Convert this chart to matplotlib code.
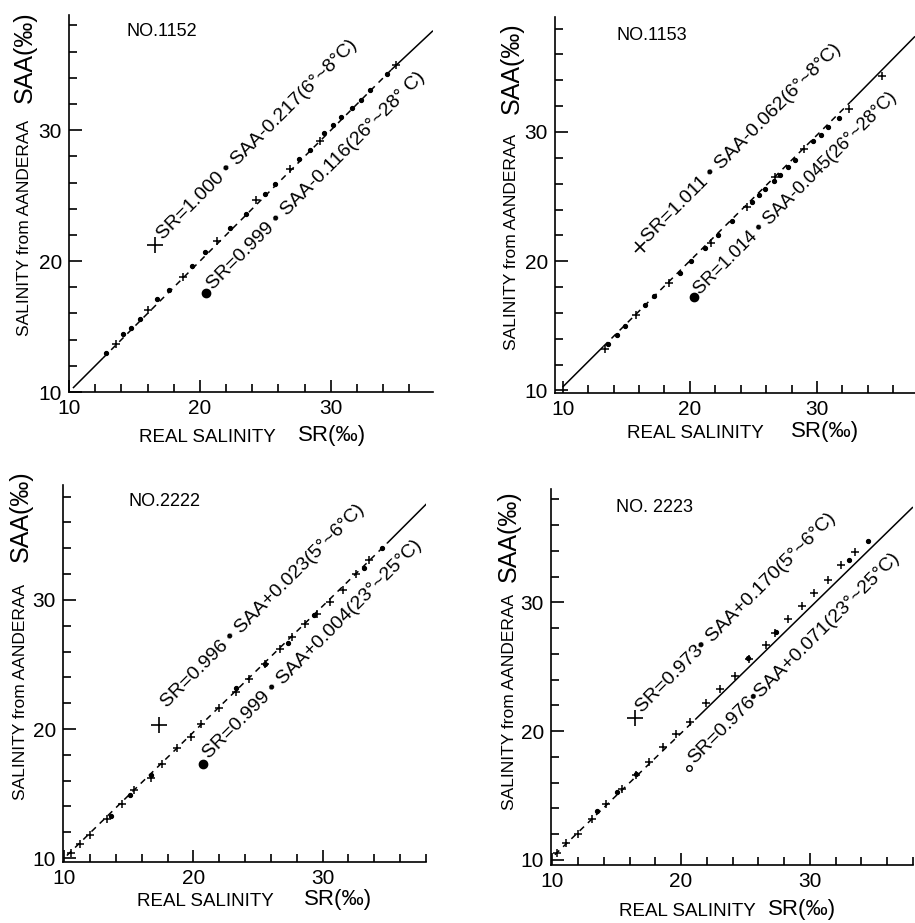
import matplotlib
matplotlib.use("Agg")
import matplotlib.pyplot as plt
from matplotlib.ticker import FixedLocator

plt.rcParams['font.family'] = ['Liberation Sans', 'DejaVu Sans']

W, H = 915, 923

# ---------------- data ----------------
titles = ["NO.1152", "NO.1153", "NO.2222", "NO. 2223"]

p1_cold_x = [13.6, 16.0, 18.7, 21.3, 24.3, 26.9, 29.2, 35.0]
p1_cold_y = [13.7, 16.3, 18.8, 21.5, 24.7, 27.0, 29.2, 35.0]
p1_warm_x = [12.8, 14.1, 14.7, 15.4, 16.7, 17.6, 19.4, 20.4, 22.3, 23.5, 25.0, 25.7,
             27.6, 28.4, 29.5, 30.2, 30.8, 31.6, 32.3, 33.0, 34.3]
p1_warm_y = [13.0, 14.4, 14.9, 15.6, 17.1, 17.8, 19.6, 20.7, 22.5, 23.6, 25.1, 25.9,
             27.8, 28.5, 29.8, 30.4, 31.0, 31.7, 32.3, 33.1, 34.3]

p2_cold_x = [13.3, 15.8, 18.4, 21.7, 24.5, 26.7, 29.0, 32.5, 35.1]
p2_cold_y = [13.2, 15.8, 18.3, 21.4, 24.2, 26.5, 28.7, 31.8, 34.3]
p2_warm_x = [13.6, 14.3, 14.9, 16.5, 17.2, 19.2, 20.1, 21.2, 22.2, 23.3, 24.9, 25.4,
             25.9, 26.6, 27.1, 27.7, 28.3, 29.7, 30.3, 30.9, 31.7]
p2_warm_y = [13.6, 14.3, 15.0, 16.6, 17.3, 19.1, 20.0, 21.0, 22.0, 23.1, 24.6, 25.1,
             25.6, 26.2, 26.7, 27.3, 27.8, 29.3, 29.8, 30.4, 31.1]

p3_cold_x = [10.5, 11.2, 12.0, 13.3, 14.5, 15.4, 16.7, 17.6, 18.7, 19.8, 20.6, 22.0,
             23.3, 24.3, 25.5, 26.7, 27.6, 28.6, 29.6, 30.6, 31.6, 32.6, 33.6]
p3_cold_y = [10.4, 11.1, 11.8, 13.0, 14.2, 15.3, 16.2, 17.3, 18.5, 19.4, 20.4, 21.6,
             22.9, 23.9, 25.0, 26.2, 27.1, 28.1, 28.9, 29.8, 30.8, 32.0, 33.1]
p3_warm_x = [13.6, 15.1, 16.7, 23.3, 25.5, 27.3, 29.3, 33.2, 34.6]
p3_warm_y = [13.3, 14.9, 16.4, 23.2, 25.0, 26.7, 28.8, 32.5, 34.0]

p4_cold_x = [10.4, 11.1, 12.0, 13.1, 14.2, 15.4, 16.5, 17.5, 18.6, 19.6, 20.7, 21.9,
             23.0, 24.2, 25.3, 26.6, 27.3, 28.3, 29.4, 30.3, 31.4, 32.4, 33.5]
p4_cold_y = [10.5, 11.3, 12.0, 13.2, 14.3, 15.5, 16.6, 17.6, 18.8, 19.8, 20.7, 22.2,
             23.3, 24.3, 25.6, 26.7, 27.6, 28.7, 29.7, 30.7, 31.7, 32.9, 33.9]
p4_warm_x = [13.5, 15.0, 16.5, 25.2, 27.4, 33.0, 34.5]
p4_warm_y = [13.8, 15.3, 16.7, 25.7, 27.7, 33.3, 34.8]

# fitted lines: [start, dash start, dash end, end] (x, y)
line_x = [[10.3, 12.6, 34.6, 37.8], [10.0, 13.2, 32.6, 37.7],
          [10.2, 10.2, 35.0, 38.2], [10.2, 10.2, 21.1, 38.0]]
line_y = [[10.3, 12.6, 34.6, 37.6], [10.26, 13.4, 32.3, 37.4],
          [10.2, 10.2, 34.4, 37.6], [10.4, 10.4, 20.9, 37.4]]

eq_cold = ["SR=1.000 \u2022 SAA-0.217(6\u00b0~8\u00b0C)",
           "SR=1.011 \u2022 SAA-0.062(6\u00b0~8\u00b0C)",
           "SR=0.996 \u2022 SAA+0.023(5\u00b0~6\u00b0C)",
           "SR=0.973\u2022 SAA+0.170(5\u00b0~6\u00b0C)"]
eq_warm = ["SR=0.999 \u2022 SAA-0.116(26\u00b0~28\u00b0 C)",
           "SR=1.014 \u2022 SAA-0.045(26\u00b0~28\u00b0C)",
           "SR=0.999 \u2022 SAA+0.004(23\u00b0~25\u00b0C)",
           "SR=0.976\u2022SAA+0.071(23\u00b0~25\u00b0C)"]
# legend symbol positions and equation starting points (data units)
cold_sym = [(16.6, 21.2), (16.1, 21.1), (17.3, 20.3), (16.4, 21.0)]
cold_txt = [(17.2, 21.6), (16.7, 21.4), (18.0, 21.6), (17.0, 21.4)]
warm_sym = [(20.5, 17.6), (20.3, 17.2), (20.7, 17.3), (20.6, 17.1)]
warm_txt = [(21.0, 17.8), (20.8, 17.4), (21.2, 17.7), (21.0, 17.4)]
eq_size = [14, 14, 14, 14]
eq_size_warm = [14, 13.2, 14, 14]

xlims = [(10.0, 37.8), (9.4, 37.7), (9.9, 38.0), (9.9, 38.0)]
ylims = [(10.0, 38.8), (9.8, 38.9), (9.7, 38.9), (9.6, 38.8)]
major_ticks = [10, 20, 30]
minor_ticks = list(range(12, 39, 2))

cold = [(p1_cold_x, p1_cold_y), (p2_cold_x, p2_cold_y),
        (p3_cold_x, p3_cold_y), (p4_cold_x, p4_cold_y)]
warm = [(p1_warm_x, p1_warm_y), (p2_warm_x, p2_warm_y),
        (p3_warm_x, p3_warm_y), (p4_warm_x, p4_warm_y)]

# ---------------- layout (pixels) ----------------
# axes box: left px, right px, bottom px, top px
boxes = [(69, 433, 392, 15), (555, 915, 393, 17), (63, 426, 862, 485), (551, 913, 865, 489)]
title_pos = [(162, 32), (652, 35), (165, 501), (654, 508)]
xl_small = [(207, 438), (695, 433), (205, 902), (687, 912)]
xl_big = [(332, 436), (825, 431), (338, 900), (802, 910)]
yl_small = [(25, 228), (512, 242), (21, 692), (509, 702)]
yl_big = [(25, 57), (512, 68), (21, 516), (509, 536)]

fig = plt.figure(figsize=(W / 100, H / 100), dpi=100)
fig.patch.set_facecolor("white")

def fx(px):
    return px / W

def fy(py):
    return 1 - py / H

for i in range(4):
    l, r, b, t = boxes[i]
    ax = fig.add_axes([fx(l), fy(b), (r - l) / W, (b - t) / H])
    ax.set_xlim(*xlims[i])
    ax.set_ylim(*ylims[i])
    for s in ("top", "right"):
        ax.spines[s].set_visible(False)
    for s in ("left", "bottom"):
        ax.spines[s].set_linewidth(1.2)
    ax.xaxis.set_major_locator(FixedLocator(major_ticks))
    ax.yaxis.set_major_locator(FixedLocator(major_ticks))
    ax.xaxis.set_minor_locator(FixedLocator(minor_ticks))
    ax.yaxis.set_minor_locator(FixedLocator(minor_ticks))
    ax.tick_params(which="major", direction="in", length=9, width=1.2,
                   labelsize=15, pad=5)
    ax.tick_params(which="minor", direction="in", length=5.5, width=1.2)
    ax.set_xticklabels([str(v) for v in major_ticks])
    ax.set_yticklabels([str(v) for v in major_ticks])

    lx, ly = line_x[i], line_y[i]
    ax.plot(lx[0:2], ly[0:2], color="black", lw=1.1, solid_capstyle="butt")
    ax.plot(lx[1:3], ly[1:3], color="black", lw=1.1, linestyle=(0, (4, 3.5)))
    ax.plot(lx[2:4], ly[2:4], color="black", lw=1.1, solid_capstyle="butt")

    cx, cy = cold[i]
    ax.plot(cx, cy, linestyle="none", marker="+", ms=6, mew=1.1, color="black")
    wx, wy = warm[i]
    ax.plot(wx, wy, linestyle="none", marker="o", ms=3.0, mew=0.8,
            mfc="black", mec="black")

    # legend symbols
    cmark = "x" if i == 1 else "+"
    ax.plot(*cold_sym[i], marker=cmark, ms=11 if i != 1 else 7, mew=1.2,
            color="black", linestyle="none")
    ax.plot(*warm_sym[i], marker="o", ms=6 if i != 3 else 4,
            mfc="black" if i != 3 else "white", mec="black", mew=1.0,
            linestyle="none")

    ax.text(*cold_txt[i], eq_cold[i], rotation=45, rotation_mode="anchor",
            ha="left", va="baseline", fontsize=eq_size[i])
    ax.text(*warm_txt[i], eq_warm[i], rotation=45, rotation_mode="anchor",
            ha="left", va="baseline", fontsize=eq_size_warm[i])

    fig.text(fx(title_pos[i][0]), fy(title_pos[i][1]), titles[i],
             ha="center", va="center", fontsize=13)
    fig.text(fx(xl_small[i][0]), fy(xl_small[i][1]), "REAL SALINITY",
             ha="center", va="center", fontsize=13.5)
    fig.text(fx(xl_big[i][0]), fy(xl_big[i][1]), "SR(\u2030)",
             ha="center", va="center", fontsize=16)
    fig.text(fx(yl_small[i][0]), fy(yl_small[i][1]), "SALINITY from AANDERAA",
             ha="center", va="center", fontsize=12.5, rotation=90)
    fig.text(fx(yl_big[i][0]), fy(yl_big[i][1]), "SAA(\u2030)",
             ha="center", va="center", fontsize=18, rotation=90)

fig.savefig("out.png", dpi=100, facecolor="white")
